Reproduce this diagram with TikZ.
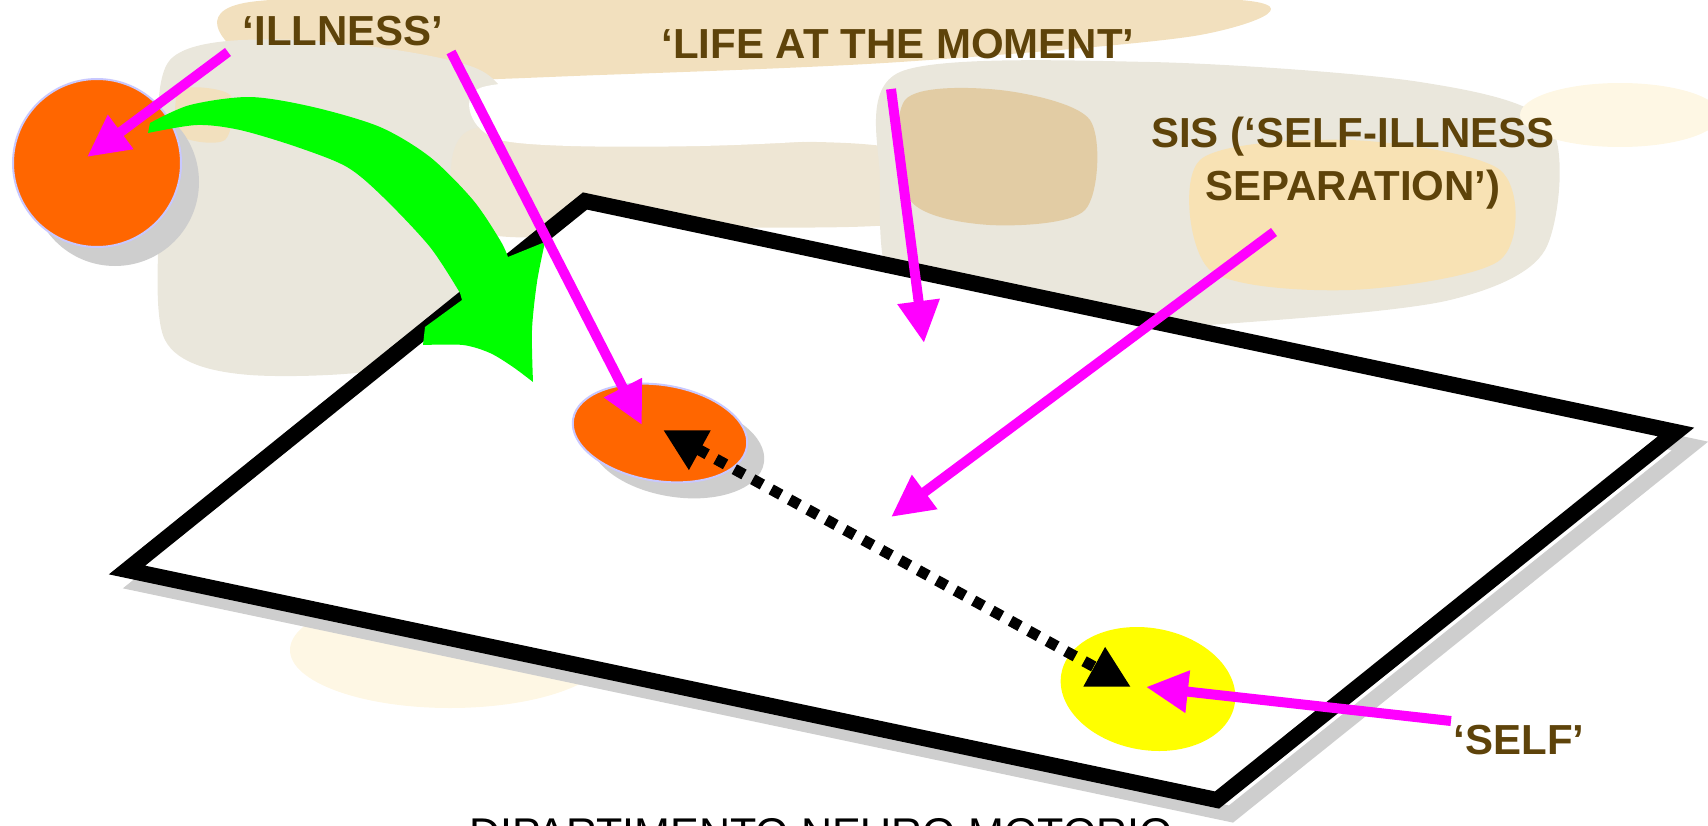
\documentclass[tikz,border=0pt]{standalone}
\usepackage{fontspec}
\setmainfont{Liberation Sans}
\usetikzlibrary{arrows.meta,shapes.geometric}
\definecolor{txtbrown}{RGB}{94,67,10}
\definecolor{shadowgrey}{RGB}{206,206,206}
\definecolor{orangeC}{RGB}{255,102,0}
\definecolor{lav}{RGB}{200,200,255}
\definecolor{magentaC}{RGB}{255,0,255}
\definecolor{greenC}{RGB}{0,255,0}
\definecolor{yellowC}{RGB}{255,255,0}
\definecolor{bgtan}{RGB}{242,224,190}
\definecolor{bgbeige}{RGB}{234,231,220}
\definecolor{bgbeige2}{RGB}{238,230,212}
\definecolor{bgbrown}{RGB}{226,204,164}
\definecolor{bgorange}{RGB}{248,226,180}
\definecolor{bgcream}{RGB}{254,247,228}
\begin{document}
\begin{tikzpicture}[x=1bp,y=-1bp,
  planeline/.style={line width=16bp,line join=miter},
  magarrow/.style={draw=magentaC,line width=10bp,-{Triangle[length=42bp,width=40bp]}},
  dotarrow/.style={draw=black,line width=11bp,dash pattern=on 11bp off 10bp,
     {Triangle[length=42bp,width=42bp]}-{Triangle[length=42bp,width=42bp]}},
  label/.style={text=txtbrown,font=\fontsize{42bp}{53bp}\selectfont\bfseries,inner sep=0pt,anchor=base}
]
\useasboundingbox (0,0) rectangle (1708,826);
\clip (0,0) rectangle (1708,826);

% faded background picture
\fill[bgtan] plot[smooth cycle] coordinates {(250,2) (700,-4) (1240,0) (1200,35) (900,62) (600,75) (400,80) (250,60)};
\fill[bgbeige] plot[smooth cycle] coordinates {(170,60) (300,40) (480,70) (520,150) (480,260) (420,360) (250,375) (165,340) (160,200)};
\fill[bgbeige2] plot[smooth cycle] coordinates {(470,130) (700,140) (900,150) (920,220) (700,228) (480,232)};
\fill[white] plot[smooth cycle] coordinates {(480,88) (650,80) (890,92) (895,132) (700,146) (500,140)};
\fill[bgbeige] plot[smooth cycle] coordinates {(900,72) (1150,62) (1420,82) (1550,125) (1545,250) (1450,300) (1250,322) (1050,330) (900,300) (880,180)};
\fill[bgbrown] plot[smooth cycle] coordinates {(905,100) (1000,90) (1090,120) (1085,210) (990,225) (910,200)};
\fill[bgorange] plot[smooth cycle] coordinates {(1200,160) (1350,140) (1500,170) (1500,260) (1350,290) (1210,270)};
\fill[bgtan] plot[smooth cycle] coordinates {(180,90) (230,95) (225,140) (180,135)};
\fill[bgcream] (1620,115) ellipse [x radius=100, y radius=32];
\fill[bgbeige] (1130,300) ellipse [x radius=75, y radius=30];
\fill[bgcream] (450,650) ellipse [x radius=160, y radius=58];

% plane
\coordinate (pT) at (585,201);
\coordinate (pR) at (1676,432);
\coordinate (pB) at (1217,800);
\coordinate (pL) at (127,570);
\draw[planeline,draw=shadowgrey] ([shift={(14,14)}]pT) -- ([shift={(14,14)}]pR) -- ([shift={(14,14)}]pB) -- ([shift={(14,14)}]pL) -- cycle;
\draw[planeline,draw=black,fill=white] (pT) -- (pR) -- (pB) -- (pL) -- cycle;

% illness circle
\node[circle,minimum size=168bp,inner sep=0pt,fill=shadowgrey] (illshadow) at (115,182) {};
\node[circle,minimum size=168bp,inner sep=0pt,fill=orangeC,draw=lav,line width=2bp] (ill) at (97,163) {};

% green curved arrow
\fill[greenC] plot[smooth] coordinates {(150,123) (190,105) (250,97) (313,107) (380,127) (430,157) (473,200) (500,240) (508,257)}
  -- (545,242)
  -- plot[smooth] coordinates {(545,242) (537,282) (532,330) (533,382)}
  -- plot[smooth] coordinates {(533,382) (513,367) (490,353) (463,345) (423,345)}
  -- (425,327) -- (462,300)
  -- plot[smooth] coordinates {(460,293) (430,247) (383,197) (347,167) (297,147) (240,130) (197,125) (148,133)}
  -- cycle;

% middle illness ellipse
\node[ellipse,minimum width=176bp,minimum height=96bp,inner sep=0pt,rotate=-9,fill=shadowgrey] (midshadow) at (677,449) {};
\node[ellipse,minimum width=176bp,minimum height=96bp,inner sep=0pt,rotate=-9,fill=orangeC,draw=lav,line width=2bp] (mid) at (660,433) {};

% self ellipse
\node[ellipse,minimum width=176bp,minimum height=122bp,inner sep=0pt,rotate=-10,fill=yellowC] (self) at (1148,689) {};

% separation arrow
\coordinate (sepA) at (663,430);
\coordinate (sepB) at (1131,687);
\draw[dotarrow] (sepA) -- (sepB);

% labels
\node[label] (tIll) at (343,45) {‘ILLNESS’};
\node[label] (tLife) at (898,58) {‘LIFE AT THE MOMENT’};
\node[label,align=center] (tSis) at (1353,200) {SIS (‘SELF-ILLNESS\\SEPARATION’)};
\node[label] (tSelf) at (1519,754) {‘SELF’};
\node[font=\fontsize{43bp}{50bp}\selectfont,inner sep=0pt,anchor=base] (tDip) at (821,848) {DIPARTIMENTO NEURO MOTORIO};

% magenta pointer arrows
\coordinate (a1s) at (228,52);   \coordinate (a1e) at (87,157);
\coordinate (a2s) at (451,52);   \coordinate (a2e) at (642,425);
\coordinate (a3s) at (891,89);   \coordinate (a3e) at (924,343);
\coordinate (a4s) at (1274,232); \coordinate (a4e) at (891,517);
\coordinate (a5s) at (1451,721); \coordinate (a5e) at (1146,687);
\draw[magarrow] (a1s) -- (a1e);
\draw[magarrow] (a2s) -- (a2e);
\draw[magarrow] (a3s) -- (a3e);
\draw[magarrow] (a4s) -- (a4e);
\draw[magarrow] (a5s) -- (a5e);
\end{tikzpicture}
\end{document}
